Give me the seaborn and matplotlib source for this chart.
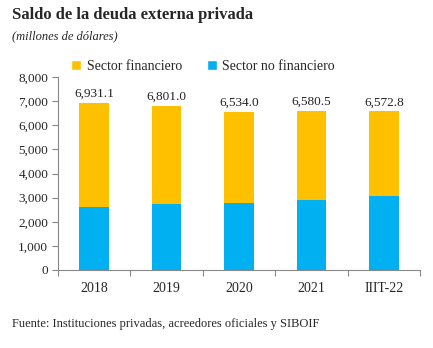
import matplotlib
matplotlib.use("Agg")
import matplotlib.pyplot as plt
import seaborn as sns
import pandas as pd
from matplotlib.patches import Patch

categories = ["2018", "2019", "2020", "2021", "IIIT-22"]
totals = [6931.1, 6801.0, 6534.0, 6580.5, 6572.8]
no_financiero = [2620, 2745, 2785, 2915, 3050]
y_ticks = [0, 1000, 2000, 3000, 4000, 5000, 6000, 7000, 8000]

sns.set_theme(style="white")
plt.rcParams['font.family'] = ['Liberation Serif', 'DejaVu Serif']

df = pd.DataFrame({"cat": categories, "total": totals, "nf": no_financiero})

fig = plt.figure(figsize=(4.33, 3.48), dpi=100)
ax = fig.add_axes([58/433, 1 - 270/348, 362/433, (270 - 77)/348])

orange = "#FFC000"
blue = "#00B0F0"
sns.barplot(data=df, x="cat", y="total", color=orange, width=0.41, ax=ax,
            saturation=1, edgecolor="none")
sns.barplot(data=df, x="cat", y="nf", color=blue, width=0.41, ax=ax,
            saturation=1, edgecolor="none")

for i, t in enumerate(totals):
    ax.text(i, t + 130, f"{t:,.1f}", ha="center", va="bottom", fontsize=9.5, color="#222222")

ax.set_ylim(0, 8000)
ax.set_xlim(-0.5, len(categories) - 0.5)
ax.set_yticks(y_ticks)
ax.set_yticklabels([f"{v:,}" for v in y_ticks], fontsize=9.5)
ax.set_xlabel("")
ax.set_ylabel("")
ax.set_xticks(range(len(categories)))
ax.set_xticklabels(categories, fontsize=10)
ax.tick_params(axis="x", length=0, pad=9)
ax.tick_params(axis="y", length=4, width=0.8, color="#888888", direction="out", left=True, pad=3)
ax.set_xticks([i + 0.5 for i in range(-1, len(categories))], minor=True)
ax.tick_params(axis="x", which="minor", length=4, width=0.8, color="#888888", direction="out", bottom=True)
for s in ["top", "right"]:
    ax.spines[s].set_visible(False)
for s in ["bottom", "left"]:
    ax.spines[s].set_visible(True)
    ax.spines[s].set_color("#888888")
    ax.spines[s].set_linewidth(0.8)

handles = [Patch(facecolor=orange, label="Sector financiero"),
           Patch(facecolor=blue, label="Sector no financiero")]
fig.legend(handles=handles, loc="center", bbox_to_anchor=(203/433, 1 - 66/348), ncol=2,
           frameon=False, fontsize=10, handlelength=0.7, handleheight=0.7,
           handletextpad=0.4, columnspacing=1.8)

fig.text(12/433, 1 - 15/348, "Saldo de la deuda externa privada", fontsize=12,
         fontweight="bold", va="center", ha="left")
fig.text(12/433, 1 - 36/348, "(millones de dólares)", fontsize=9,
         fontstyle="italic", va="center", ha="left")
fig.text(12/433, 1 - 324/348, "Fuente: Instituciones privadas, acreedores oficiales y SIBOIF",
         fontsize=9, va="center", ha="left")

fig.savefig("out.png", dpi=100)
